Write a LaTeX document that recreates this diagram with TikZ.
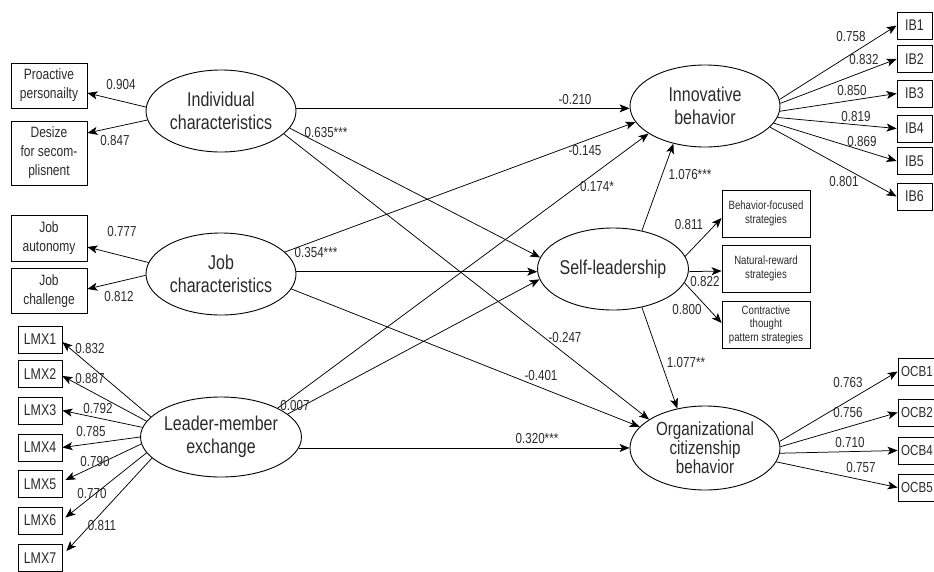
\documentclass[tikz,border=0pt]{standalone}
\usepackage{fontspec}
\setmainfont{Liberation Sans}[FakeStretch=0.8]
\usetikzlibrary{arrows.meta,shapes.geometric}
\definecolor{txt}{HTML}{2A2A2A}
\tikzset{
  lat/.style={ellipse, draw, line width=0.9pt, minimum width=150pt, minimum height=82pt,
    inner sep=0pt, align=center, font=\fontsize{20}{23}\selectfont, text=txt},
  ind/.style={draw, line width=0.8pt, inner sep=0pt, align=center,
    font=\fontsize{15}{19}\selectfont, text=txt},
  lmxbox/.style={ind, minimum width=44pt, minimum height=27pt, font=\fontsize{15.5}{18}\selectfont},
  ibbox/.style={ind, minimum width=35pt, minimum height=27pt, font=\fontsize{15.5}{18}\selectfont},
  ocbbox/.style={ind, minimum width=38pt, minimum height=27pt, font=\fontsize{14.5}{18}\selectfont},
  stbox/.style={ind, minimum width=88pt, minimum height=47pt, font=\fontsize{12}{13.5}\selectfont},
  lab/.style={inner sep=0pt, font=\fontsize{14.5}{16}\selectfont, text=txt},
  arr/.style={-{Stealth[length=10pt,width=8pt,inset=2.5pt]}, line width=0.75pt},
}
\begin{document}
\begin{tikzpicture}[x=1pt,y=-1pt]
\useasboundingbox (0,0) rectangle (934,571);
\clip (0,0) rectangle (934,571);
% latent variables
\node[lat] (ic) at (221,111) {Individual\\characteristics};
\node[lat] (jc) at (221,274) {Job\\characteristics};
\node[lat, minimum height=80pt] (lmx) at (221,437) {Leader-member\\exchange};
\node[lat] (ib) at (705,106) {Innovative\\behavior};
\node[lat, minimum width=148pt] (sl) at (613,269) {Self-leadership};
\node[lat, minimum height=84pt, font=\fontsize{19}{19}\selectfont] (ocb) at (705,448) {Organizational\\citizenship\\behavior};
% left indicators
\node[ind, minimum width=76pt, minimum height=45pt] (pp) at (49,85.5) {Proactive\\personailty};
\node[ind, minimum width=76pt, minimum height=64pt] (ds) at (49,153) {Desize\\for secom-\\plisnent};
\node[ind, minimum width=76pt, minimum height=46pt] (ja) at (49,238) {Job\\autonomy};
\node[ind, minimum width=76pt, minimum height=45pt] (jch) at (49,291) {Job\\challenge};
\foreach \i/\y in {1/339.5,2/374,3/410.5,4/447.5,5/484,6/520.5,7/558}
  \node[lmxbox] (lmx\i) at (40,\y) {LMX\i};
% right indicators
\foreach \i/\y in {1/25.5,2/59,3/93.5,4/128.5,5/161,6/196.5}
  \node[ibbox] (ib\i) at (914.5,\y) {IB\i};
\node[ocbbox] (ocb1) at (917,371.5) {OCB1};
\node[ocbbox] (ocb2) at (917,412.5) {OCB2};
\node[ocbbox] (ocb4) at (917,450.5) {OCB4};
\node[ocbbox] (ocb5) at (917,487.5) {OCB5};
\node[stbox] (bf) at (766,213.5) {Behavior-focused\\strategies};
\node[stbox] (nr) at (766,268.5) {Natural-reward\\strategies};
\node[stbox] (ct) at (766,324.5) {Contractive\\thought\\pattern strategies};
% measurement arrows
\draw[arr] (ic.177) -- ([yshift=-7.5pt]pp.east);
\draw[arr] (ic.187) -- ([yshift=20pt]ds.east);
\draw[arr] (jc.171) -- ([yshift=-9pt]ja.east);
\draw[arr] (jc.181) -- ([yshift=2pt]jch.east);
\draw[arr] (lmx.164) -- ([yshift=-2.5pt]lmx1.east);
\draw[arr] (lmx.168) -- ([yshift=-2pt]lmx2.east);
\draw[arr] (lmx.173) -- (lmx3.east);
\draw[arr] (lmx.180) -- (lmx4.east);
\draw[arr] (lmx.185) -- ([xshift=3pt,yshift=4pt]lmx5.east);
\draw[arr] (lmx.192) -- ([xshift=3pt,yshift=3pt]lmx6.east);
\draw[arr] (lmx.197) -- ([xshift=4pt,yshift=7pt]lmx7.east);
\draw[arr] (ib.5) -- (ib1.west);
\draw[arr] (ib.2) -- (ib2.west);
\draw[arr] (ib.-4) -- (ib3.west);
\draw[arr] (ib.-9) -- (ib4.west);
\draw[arr] (ib.-14) -- (ib5.west);
\draw[arr] (ib.-18) -- (ib6.west);
\draw[arr] (ocb.5) -- (ocb1.west);
\draw[arr] (ocb.1) -- (ocb2.west);
\draw[arr] (ocb.-4) -- (ocb4.west);
\draw[arr] (ocb.-11) -- (ocb5.west);
\draw[arr] (sl.10) -- ([yshift=-4.5pt]bf.west);
\draw[arr] (sl.-2) -- ([yshift=-2.5pt]nr.west);
\draw[arr] (sl.-11) -- ([yshift=1.5pt]ct.west);
% structural arrows
\draw[arr] (ic.2) -- (ic.2 -| ib.west);
\draw[arr] (ic.-14) -- (sl.171);
\draw[arr] (ic.-20) -- (ocb.153);
\draw[arr] (jc.19) -- (ib.193);
\draw[arr] (sl.182 -| jc.east) -- (sl.182);
\draw[arr] (jc.-12) -- (ocb.162);
\draw[arr] (lmx.27) -- (ib.206);
\draw[arr] (lmx.19) -- (sl.188);
\draw[arr] (lmx.-8) -- (lmx.-8 -| ocb.west);
\draw[arr] (sl.53) -- (ib.230);
\draw[arr] (sl.-53) -- (ocb.125);
% labels
\node[lab] (l1) at (121,85) {0.904};
\node[lab] (l2) at (115,141) {0.847};
\node[lab] (l3) at (122,232) {0.777};
\node[lab] (l4) at (119,297) {0.812};
\node[lab] (l5) at (90,349) {0.832};
\node[lab] (l6) at (90,378) {0.887};
\node[lab] (l7) at (98,408) {0.792};
\node[lab] (l8) at (91,432) {0.785};
\node[lab] (l9) at (95,461) {0.790};
\node[lab] (l10) at (92,493) {0.770};
\node[lab] (l11) at (102,525) {0.811};
\node[lab] (l12) at (326,133) {0.635***};
\node[lab] (l13) at (316,253) {0.354***};
\node[lab] (l14) at (295,405) {0.007};
\node[lab] (l15) at (575,100) {-0.210};
\node[lab] (l16) at (585,151) {-0.145};
\node[lab] (l17) at (597,187) {0.174*};
\node[lab] (l18) at (690,175) {1.076***};
\node[lab] (l19) at (689,225) {0.811};
\node[lab] (l20) at (705,282) {0.822};
\node[lab] (l21) at (687,310) {0.800};
\node[lab] (l22) at (686,363) {1.077**};
\node[lab] (l23) at (565,338) {-0.247};
\node[lab] (l24) at (541,376) {-0.401};
\node[lab] (l25) at (537,438) {0.320***};
\node[lab] (l26) at (851,37) {0.758};
\node[lab] (l27) at (864,60) {0.832};
\node[lab] (l28) at (852,91) {0.850};
\node[lab] (l29) at (856,117) {0.819};
\node[lab] (l30) at (862,142) {0.869};
\node[lab] (l31) at (844,182) {0.801};
\node[lab] (l32) at (848,382) {0.763};
\node[lab] (l33) at (848,413) {0.756};
\node[lab] (l34) at (850,442) {0.710};
\node[lab] (l35) at (861,467) {0.757};
\end{tikzpicture}
\end{document}
